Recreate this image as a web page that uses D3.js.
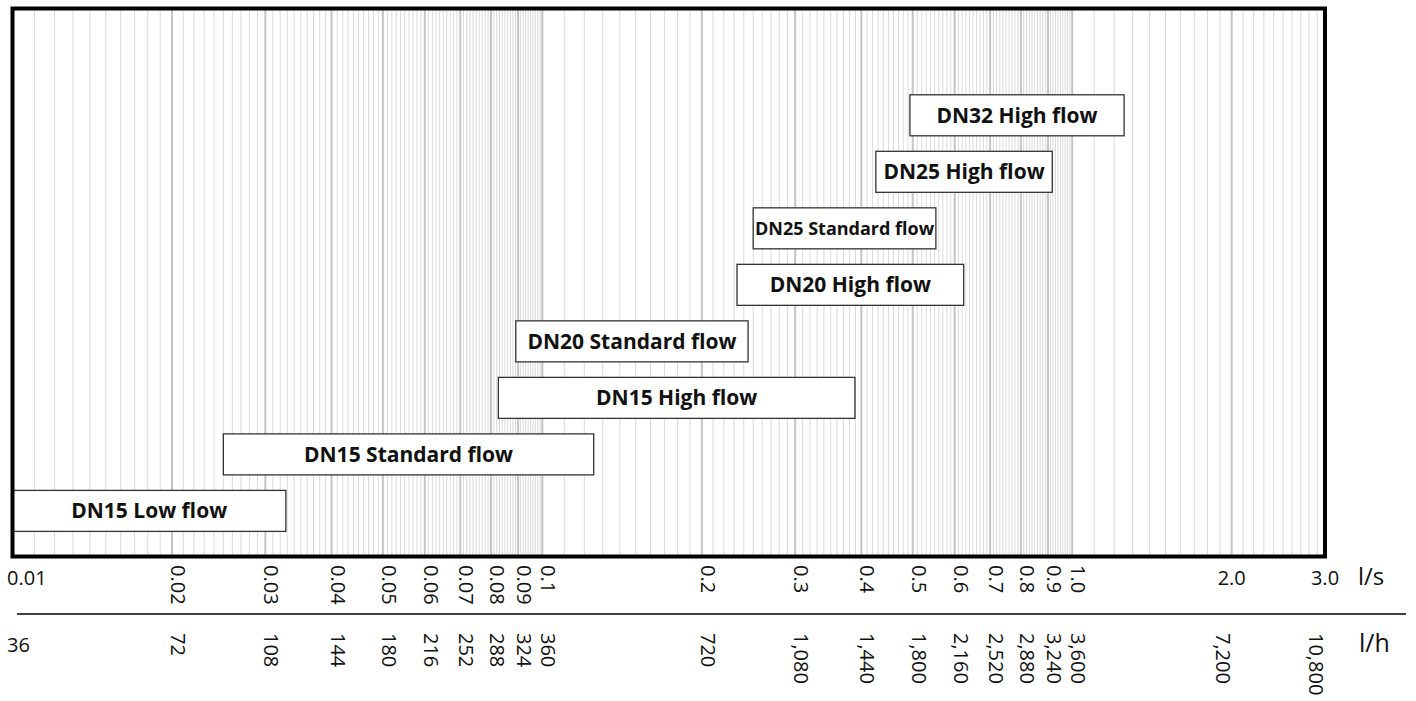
<!DOCTYPE html>
<html>
<head>
<meta charset="utf-8">
<script src="https://cdn.jsdelivr.net/npm/d3@7/dist/d3.min.js"></script>
<style>
  html, body { margin: 0; padding: 0; background: #fff; }
  svg { display: block; }
  text { font-family: "Open Sans", "Noto Sans", sans-serif; fill: #111; }
</style>
</head>
<body>
<svg id="chart" width="1416" height="701"></svg>
<script>
// Flow ranges per valve size (l/s)
const ranges   = ["DN15 Low flow", "DN15 Standard flow", "DN15 High flow", "DN20 Standard flow",
                  "DN20 High flow", "DN25 Standard flow", "DN25 High flow", "DN32 High flow"];
const flowMin  = [0.01, 0.025, 0.0826, 0.0891, 0.233, 0.250, 0.426, 0.494];
const flowMax  = [0.0328, 0.125, 0.389, 0.2445, 0.624, 0.553, 0.917, 1.253];

// Axis ticks: litres per second and the matching litres per hour
const lsTicks  = [0.01, 0.02, 0.03, 0.04, 0.05, 0.06, 0.07, 0.08, 0.09, 0.1,
                  0.2, 0.3, 0.4, 0.5, 0.6, 0.7, 0.8, 0.9, 1.0, 2.0, 3.0];
const lsLabels = ["0.01", "0.02", "0.03", "0.04", "0.05", "0.06", "0.07", "0.08", "0.09", "0.1",
                  "0.2", "0.3", "0.4", "0.5", "0.6", "0.7", "0.8", "0.9", "1.0", "2.0", "3.0"];
const lhLabels = ["36", "72", "108", "144", "180", "216", "252", "288", "324", "360",
                  "720", "1,080", "1,440", "1,800", "2,160", "2,520", "2,880", "3,240", "3,600", "7,200", "10,800"];

const svg = d3.select("#chart");

const x = d3.scaleLog().domain([0.01, 3.0]).range([12.5, 1325]);
const frameTop = 8.5, frameBottom = 556.5;

// Rows from bottom (DN15 Low) to top (DN32 High)
const y = d3.scalePoint().domain(ranges).range([510.9, 115.3]);
const boxH = 41;

// Fine log grid: 1.0, 1.1, ... 9.9 within each decade
const grid = [];
[0.01, 0.1, 1].forEach(dec => {
  for (let i = 10; i < 100; i++) {
    const v = dec * i / 10;
    if (v > 0.01 && v < 3.0) grid.push({ v, major: i % 10 === 0 });
  }
});

svg.append("g")
  .selectAll("line")
  .data(grid)
  .join("line")
  .attr("x1", d => x(d.v)).attr("x2", d => x(d.v))
  .attr("y1", frameTop).attr("y2", frameBottom)
  .attr("stroke", d => d.major ? "#c4c4c4" : "#dadada")
  .attr("stroke-width", d => d.major ? 2 : 1);

// Range boxes
const rows = ranges.map((name, i) => ({ name, lo: flowMin[i], hi: flowMax[i] }));
const box = svg.append("g").selectAll("g").data(rows).join("g");

box.append("rect")
  .attr("x", d => x(d.lo))
  .attr("y", d => y(d.name) - boxH / 2)
  .attr("width", d => x(d.hi) - x(d.lo))
  .attr("height", boxH)
  .attr("fill", "#fff")
  .attr("stroke", "#333")
  .attr("stroke-width", 1.3);

box.append("text")
  .attr("x", d => (x(d.lo) + x(d.hi)) / 2)
  .attr("y", d => y(d.name))
  .attr("dy", "0.36em")
  .attr("text-anchor", "middle")
  .attr("font-weight", 700)
  .attr("font-size", d => d.name === "DN25 Standard flow" ? 18 : 21)
  .text(d => d.name);

// Chart frame
svg.append("rect")
  .attr("x", x(0.01)).attr("y", frameTop)
  .attr("width", x(3.0) - x(0.01)).attr("height", frameBottom - frameTop)
  .attr("fill", "none").attr("stroke", "#000").attr("stroke-width", 4);

// Tick labels
function tickRow(labels, baseY, rotTop, isFlat, shift) {
  const g = svg.append("g");
  labels.forEach((lab, i) => {
    const px = x(lsTicks[i]);
    if (isFlat(i)) {
      g.append("text")
        .attr("x", i === 0 ? 7 : px)
        .attr("y", baseY)
        .attr("text-anchor", i === 0 ? "start" : "middle")
        .attr("font-size", 20)
        .text(lab);
    } else {
      g.append("text")
        .attr("transform", `translate(${px - 1 + shift(i)},${rotTop}) rotate(90)`)
        .attr("text-anchor", "start")
        .attr("font-size", 20)
        .text(lab);
    }
  });
}
tickRow(lsLabels, 585, 565, i => i === 0 || lsTicks[i] >= 2, () => 0);
tickRow(lhLabels, 652, 633, i => i === 0, i => lsTicks[i] >= 2 ? -15 : 0);

// Unit labels and divider between the two scales
svg.append("text").attr("x", 1358).attr("y", 585).attr("font-size", 24).text("l/s");
svg.append("text").attr("x", 1359).attr("y", 652).attr("font-size", 25).text("l/h");
svg.append("line")
  .attr("x1", 17).attr("x2", 1406)
  .attr("y1", 614).attr("y2", 614)
  .attr("stroke", "#000").attr("stroke-width", 1.5);
</script>
</body>
</html>
